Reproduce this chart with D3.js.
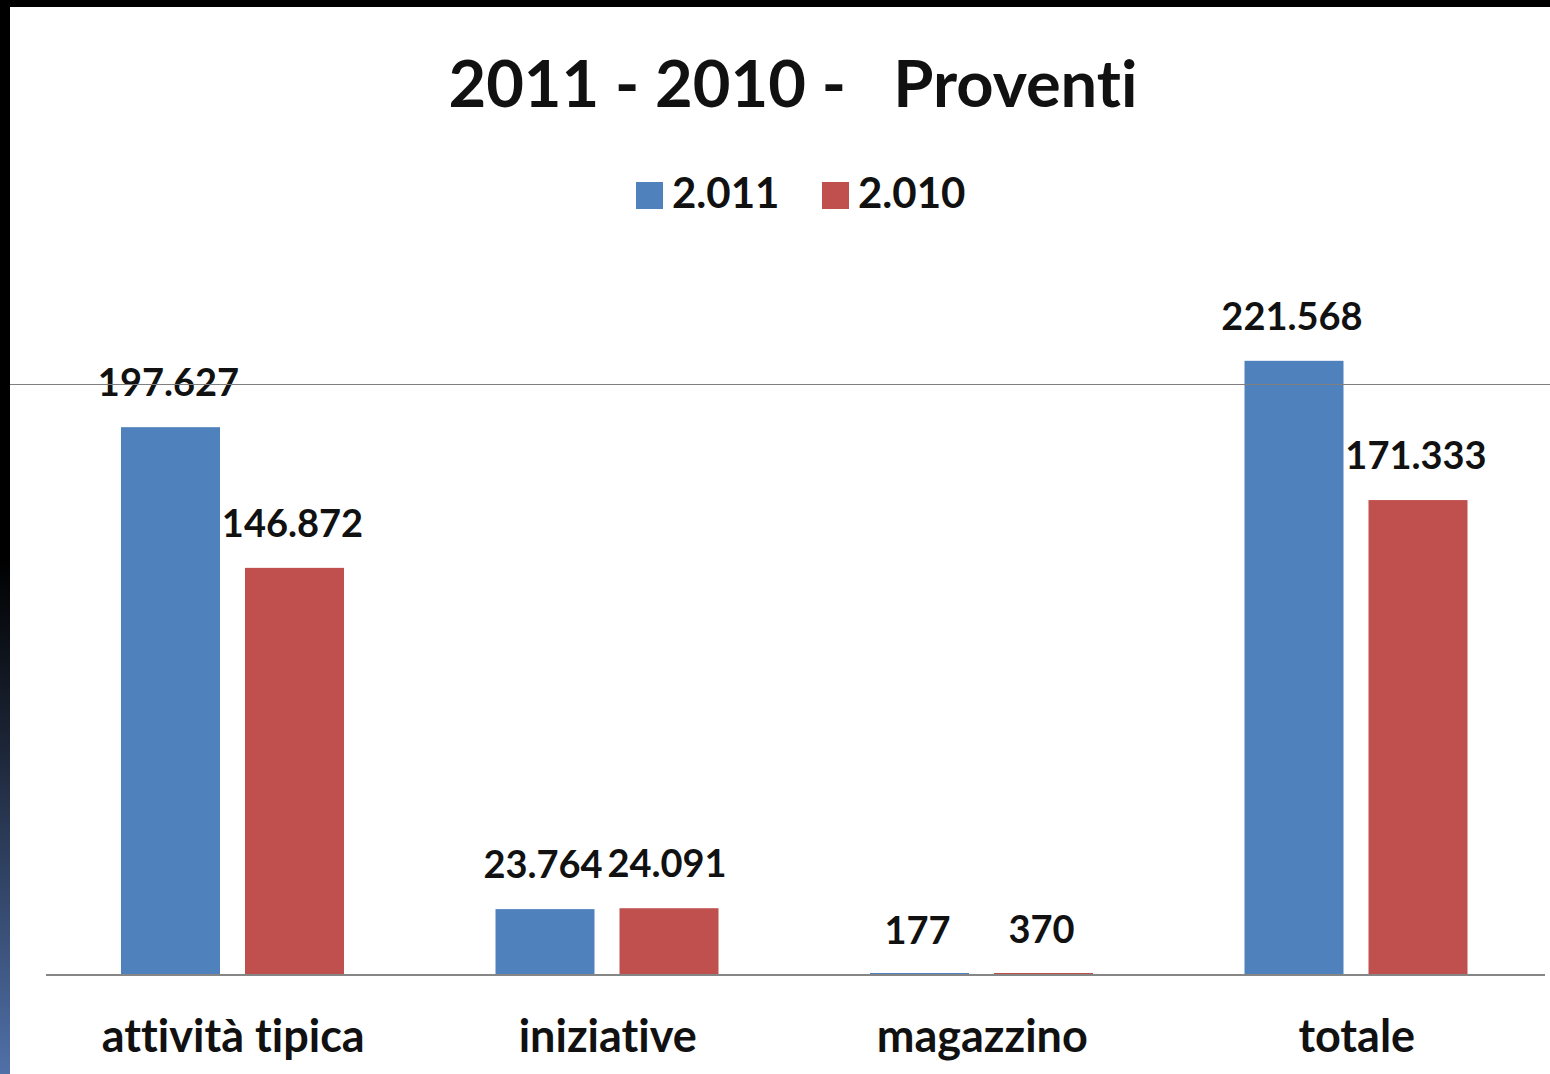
<!DOCTYPE html>
<html>
<head>
<meta charset="utf-8">
<script src="https://cdn.jsdelivr.net/npm/d3@7"></script>
<style>
  body { margin: 0; background: #fff; }
  svg { display: block; }
  text { font-family: Lato, "Open Sans", sans-serif; font-weight: bold; fill: #111; font-variant-ligatures: none; font-feature-settings: "liga" 0, "clig" 0; }
</style>
</head>
<body>
<svg id="chart" width="1550" height="1074"></svg>
<script>
// data
const categories = ["attività tipica", "iniziative", "magazzino", "totale"];
const seriesNames = ["2.011", "2.010"];
const values2011 = [197627, 23764, 177, 221568];
const values2010 = [146872, 24091, 370, 171333];
const seriesColors = ["#4f81bd", "#c0504d"];

const svg = d3.select("svg#chart");
const width = +svg.attr("width");
const height = +svg.attr("height");

// slide frame: black top edge + left gradient strip
const defs = svg.append("defs");
const grad = defs.append("linearGradient")
  .attr("id", "strip")
  .attr("x1", 0).attr("y1", 0).attr("x2", 0).attr("y2", 1);
grad.append("stop").attr("offset", "0%").attr("stop-color", "#000");
grad.append("stop").attr("offset", "52%").attr("stop-color", "#000");
grad.append("stop").attr("offset", "68%").attr("stop-color", "#1a2232");
grad.append("stop").attr("offset", "100%").attr("stop-color", "#5070a8");

svg.append("rect").attr("x", 0).attr("y", 0).attr("width", width).attr("height", 7).attr("fill", "#000");
svg.append("rect").attr("x", 0).attr("y", 0).attr("width", 10).attr("height", height).attr("fill", "url(#strip)");

// scales
const x0 = d3.scaleBand().domain(categories).range([46, 1544]);
const x1 = d3.scaleBand().domain(seriesNames).range([75, 298]).paddingInner(0.2016);
const y = d3.scaleLinear().domain([0, 250000]).range([975, 282]);

const fmt = v => d3.format(",")(v).replace(/,/g, ".");

const rows = categories.map((c, i) => ({
  cat: c,
  vals: [
    { s: seriesNames[0], v: values2011[i], c: seriesColors[0] },
    { s: seriesNames[1], v: values2010[i], c: seriesColors[1] }
  ]
}));

// title
svg.append("text")
  .attr("x", 793).attr("y", 107)
  .attr("text-anchor", "middle")
  .style("font-size", "65px")
  .style("white-space", "pre")
  .text("2011 - 2010 -   Proventi");

// legend
const legend = svg.append("g");
const legendX = [636, 822];
seriesNames.forEach((s, i) => {
  legend.append("rect")
    .attr("x", legendX[i]).attr("y", 182)
    .attr("width", 27).attr("height", 27)
    .attr("fill", seriesColors[i]);
  legend.append("text")
    .attr("x", legendX[i] + 36).attr("y", 208)
    .style("font-size", "42px")
    .text(s);
});

// bars
const groups = svg.append("g").selectAll("g.cat")
  .data(rows)
  .join("g")
  .attr("class", "cat")
  .attr("transform", d => `translate(${x0(d.cat)},0)`);

groups.selectAll("rect")
  .data(d => d.vals)
  .join("rect")
  .attr("x", d => x1(d.s))
  .attr("width", x1.bandwidth())
  .attr("y", d => Math.min(y(d.v), 973))
  .attr("height", d => Math.max(975 - y(d.v), 2))
  .attr("fill", d => d.c);

groups.selectAll("text.val")
  .data(d => d.vals)
  .join("text")
  .attr("class", "val")
  .attr("x", d => x1(d.s) + x1.bandwidth() / 2 - 2)
  .attr("y", d => y(d.v) - 31)
  .attr("text-anchor", "middle")
  .style("font-size", "38px")
  .text(d => fmt(d.v));

// baseline axis
svg.append("line")
  .attr("x1", 46).attr("x2", 1545)
  .attr("y1", 975).attr("y2", 975)
  .attr("stroke", "#868686").attr("stroke-width", 2);

// category labels
const xAxis = d3.axisBottom(x0).tickSize(0).tickPadding(0);
const ax = svg.append("g").attr("transform", "translate(0,1052)").call(xAxis);
ax.select(".domain").remove();
ax.selectAll("text")
  .attr("dy", 0)
  .attr("y", 0)
  .style("font-size", "45px")
  .style("font-family", "Lato, 'Open Sans', sans-serif")
  .style("font-weight", "bold")
  .attr("fill", "#111");

// thin grey rule across the slide
svg.append("line")
  .attr("x1", 10).attr("x2", width)
  .attr("y1", 384.5).attr("y2", 384.5)
  .attr("stroke", "#7f7f7f").attr("stroke-width", 1);
</script>
</body>
</html>
